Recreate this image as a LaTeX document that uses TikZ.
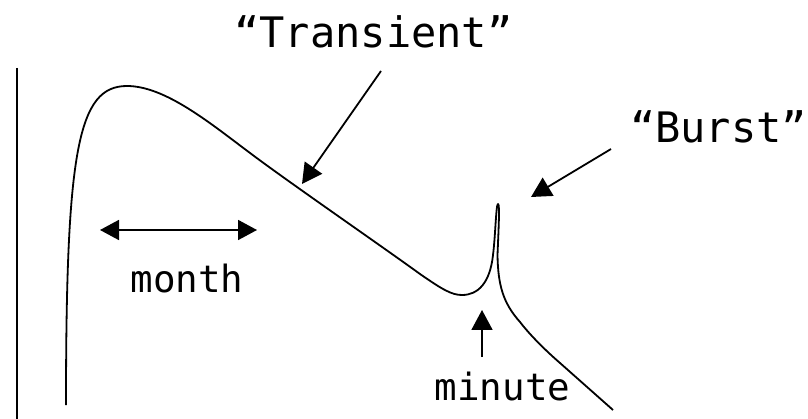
\documentclass[tikz,border=0pt]{standalone}
\usepackage{fontspec}
\newfontfamily\monofam{DejaVu Sans Mono}
\usetikzlibrary{arrows.meta}
\tikzset{
  curveline/.style={line width=1.8pt, line join=round},
  pointer/.style={line width=1.8pt, -{Triangle[length=20pt,width=21pt]}},
  bigtext/.style={anchor=base, inner sep=0pt, font=\monofam\fontsize{42}{48}\selectfont},
  smalltext/.style={anchor=base, inner sep=0pt, font=\monofam\fontsize{37.5}{44}\selectfont},
}
\begin{document}
\begin{tikzpicture}[x=1pt,y=-1pt]
\useasboundingbox (0,0) rectangle (808,419);
% axis
\coordinate (axtop) at (17,68);
\coordinate (axbot) at (17,419);
\draw[curveline] (axtop) -- (axbot);
% curve
\draw[curveline] (66,405)
  .. controls (66,150) and (78,86) .. (127,86)
  .. controls (165,86) and (210,123) .. (250,153)
  .. controls (290,183) and (380,245) .. (420,274)
  .. controls (443,290) and (452,295) .. (462,295)
  .. controls (478,295) and (490,283) .. (493,255)
  .. controls (495.5,235) and (496,204) .. (498,204)
  .. controls (500,204) and (498.5,230) .. (497.5,255)
  .. controls (498,285) and (503,303) .. (520,322)
  .. controls (530,335) and (545,350) .. (560,363)
  -- (613,410);
% labels
\node[bigtext] (transient) at (373.5,48) {“Transient”};
\node[bigtext] (burst) at (718.5,143) {“Burst”};
\node[smalltext] (month) at (187,293) {month};
\node[smalltext] (minute) at (502.5,400) {minute};
% arrows
\coordinate (ta) at (381,71);
\coordinate (tb) at (302,184);
\draw[pointer] (ta) -- (tb);
\coordinate (ba) at (611,149);
\coordinate (bb) at (531,197);
\draw[pointer] (ba) -- (bb);
\coordinate (ma) at (482,357);
\coordinate (mb) at (482,310);
\draw[pointer] (ma) -- (mb);
\coordinate (la) at (100,230);
\coordinate (lb) at (257,230);
\draw[line width=1.8pt, {Triangle[length=19pt,width=20pt]}-{Triangle[length=19pt,width=20pt]}] (la) -- (lb);
\end{tikzpicture}
\end{document}
